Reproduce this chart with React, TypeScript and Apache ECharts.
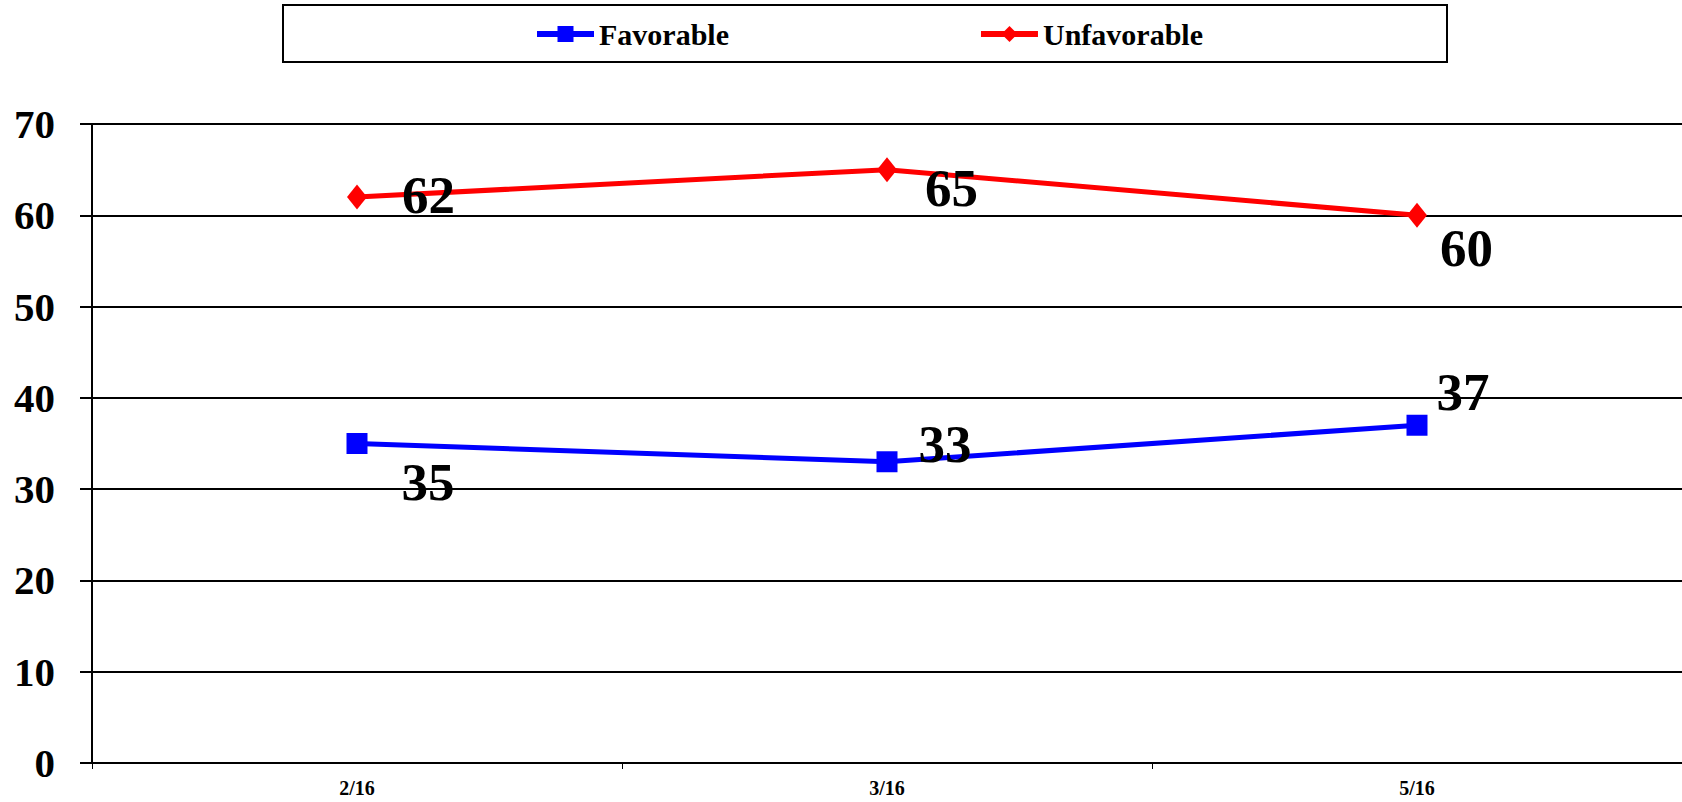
import React, { useEffect, useRef } from "react";
import * as echarts from "echarts";

const categories = ["2/16", "3/16", "5/16"];
const favorable = [35, 33, 37];
const unfavorable = [62, 65, 60];
const yTicks = { min: 0, max: 70, interval: 10 };

// label offsets (style only)
const favLabelOffsets = [[34, 38], [21, -18], [9, -33]];
const unfavLabelOffsets = [[35, -2], [28, 18], [13, 33]];

const FONT = "Liberation Serif";

export default function App() {
  const ref = useRef<HTMLDivElement>(null);
  useEffect(() => {
    const chart = echarts.init(ref.current!, null, { renderer: "svg" });
    const labelStyle = {
      show: true,
      position: "right",
      distance: 0,
      fontFamily: FONT,
      fontWeight: "bold",
      fontSize: 53,
      color: "#000",
    };
    chart.setOption({
      animation: false,
      backgroundColor: "#fff",
      textStyle: { fontFamily: FONT, fontWeight: "bold" },
      graphic: [
        {
          type: "rect",
          shape: { x: 283, y: 5, width: 1164, height: 57 },
          style: { fill: "none", stroke: "#000", lineWidth: 2 },
          z: 0,
        },
      ],
      legend: {
        left: 534,
        top: 19,
        padding: 0,
        itemGap: 249,
        itemWidth: 57,
        itemHeight: 20,
        lineStyle: { width: 6 },
        textStyle: { fontFamily: FONT, fontWeight: "bold", fontSize: 30, color: "#000" },
        data: ["Favorable", "Unfavorable"],
      },
      grid: { left: 92, right: 0, top: 124, bottom: 39, containLabel: false },
      xAxis: {
        type: "category",
        data: categories,
        boundaryGap: true,
        axisLine: { show: true, lineStyle: { color: "#000", width: 2 } },
        axisTick: { show: true, alignWithLabel: false, length: 6, lineStyle: { color: "#000", width: 1 } },
        axisLabel: {
          formatter: (v: string) => "{a|" + v + "}",
          rich: { a: { fontFamily: FONT, fontWeight: "bold", fontSize: 20, color: "#000" } },
          margin: 15,
        },
        splitLine: { show: false },
      },
      yAxis: {
        type: "value",
        min: yTicks.min,
        max: yTicks.max,
        interval: yTicks.interval,
        axisLine: { show: true, lineStyle: { color: "#000", width: 2 } },
        axisTick: { show: true, length: 12, lineStyle: { color: "#000", width: 2 } },
        axisLabel: {
          formatter: (v: number) => "{a|" + v + "}",
          rich: { a: { fontFamily: FONT, fontWeight: "bold", fontSize: 41, color: "#000" } },
          margin: 37,
        },
        splitLine: { show: true, lineStyle: { color: "#000", width: 2 } },
      },
      series: [
        {
          name: "Favorable",
          type: "line",
          data: favorable.map((v, i) => ({
            value: v,
            label: { ...labelStyle, offset: favLabelOffsets[i] },
          })),
          symbol: "rect",
          symbolSize: 21,
          itemStyle: { color: "#0000FF" },
          lineStyle: { color: "#0000FF", width: 5 },
          z: 3,
        },
        {
          name: "Unfavorable",
          type: "line",
          data: unfavorable.map((v, i) => ({
            value: v,
            label: { ...labelStyle, offset: unfavLabelOffsets[i] },
          })),
          symbol: "diamond",
          symbolSize: [20, 25],
          itemStyle: { color: "#FF0000" },
          lineStyle: { color: "#FF0000", width: 5 },
          z: 3,
        },
      ],
    });
    return () => chart.dispose();
  }, []);
  return (
    <div
      ref={ref}
      style={{ position: "absolute", left: 0, top: 0, width: 1682, height: 802 }}
    />
  );
}
